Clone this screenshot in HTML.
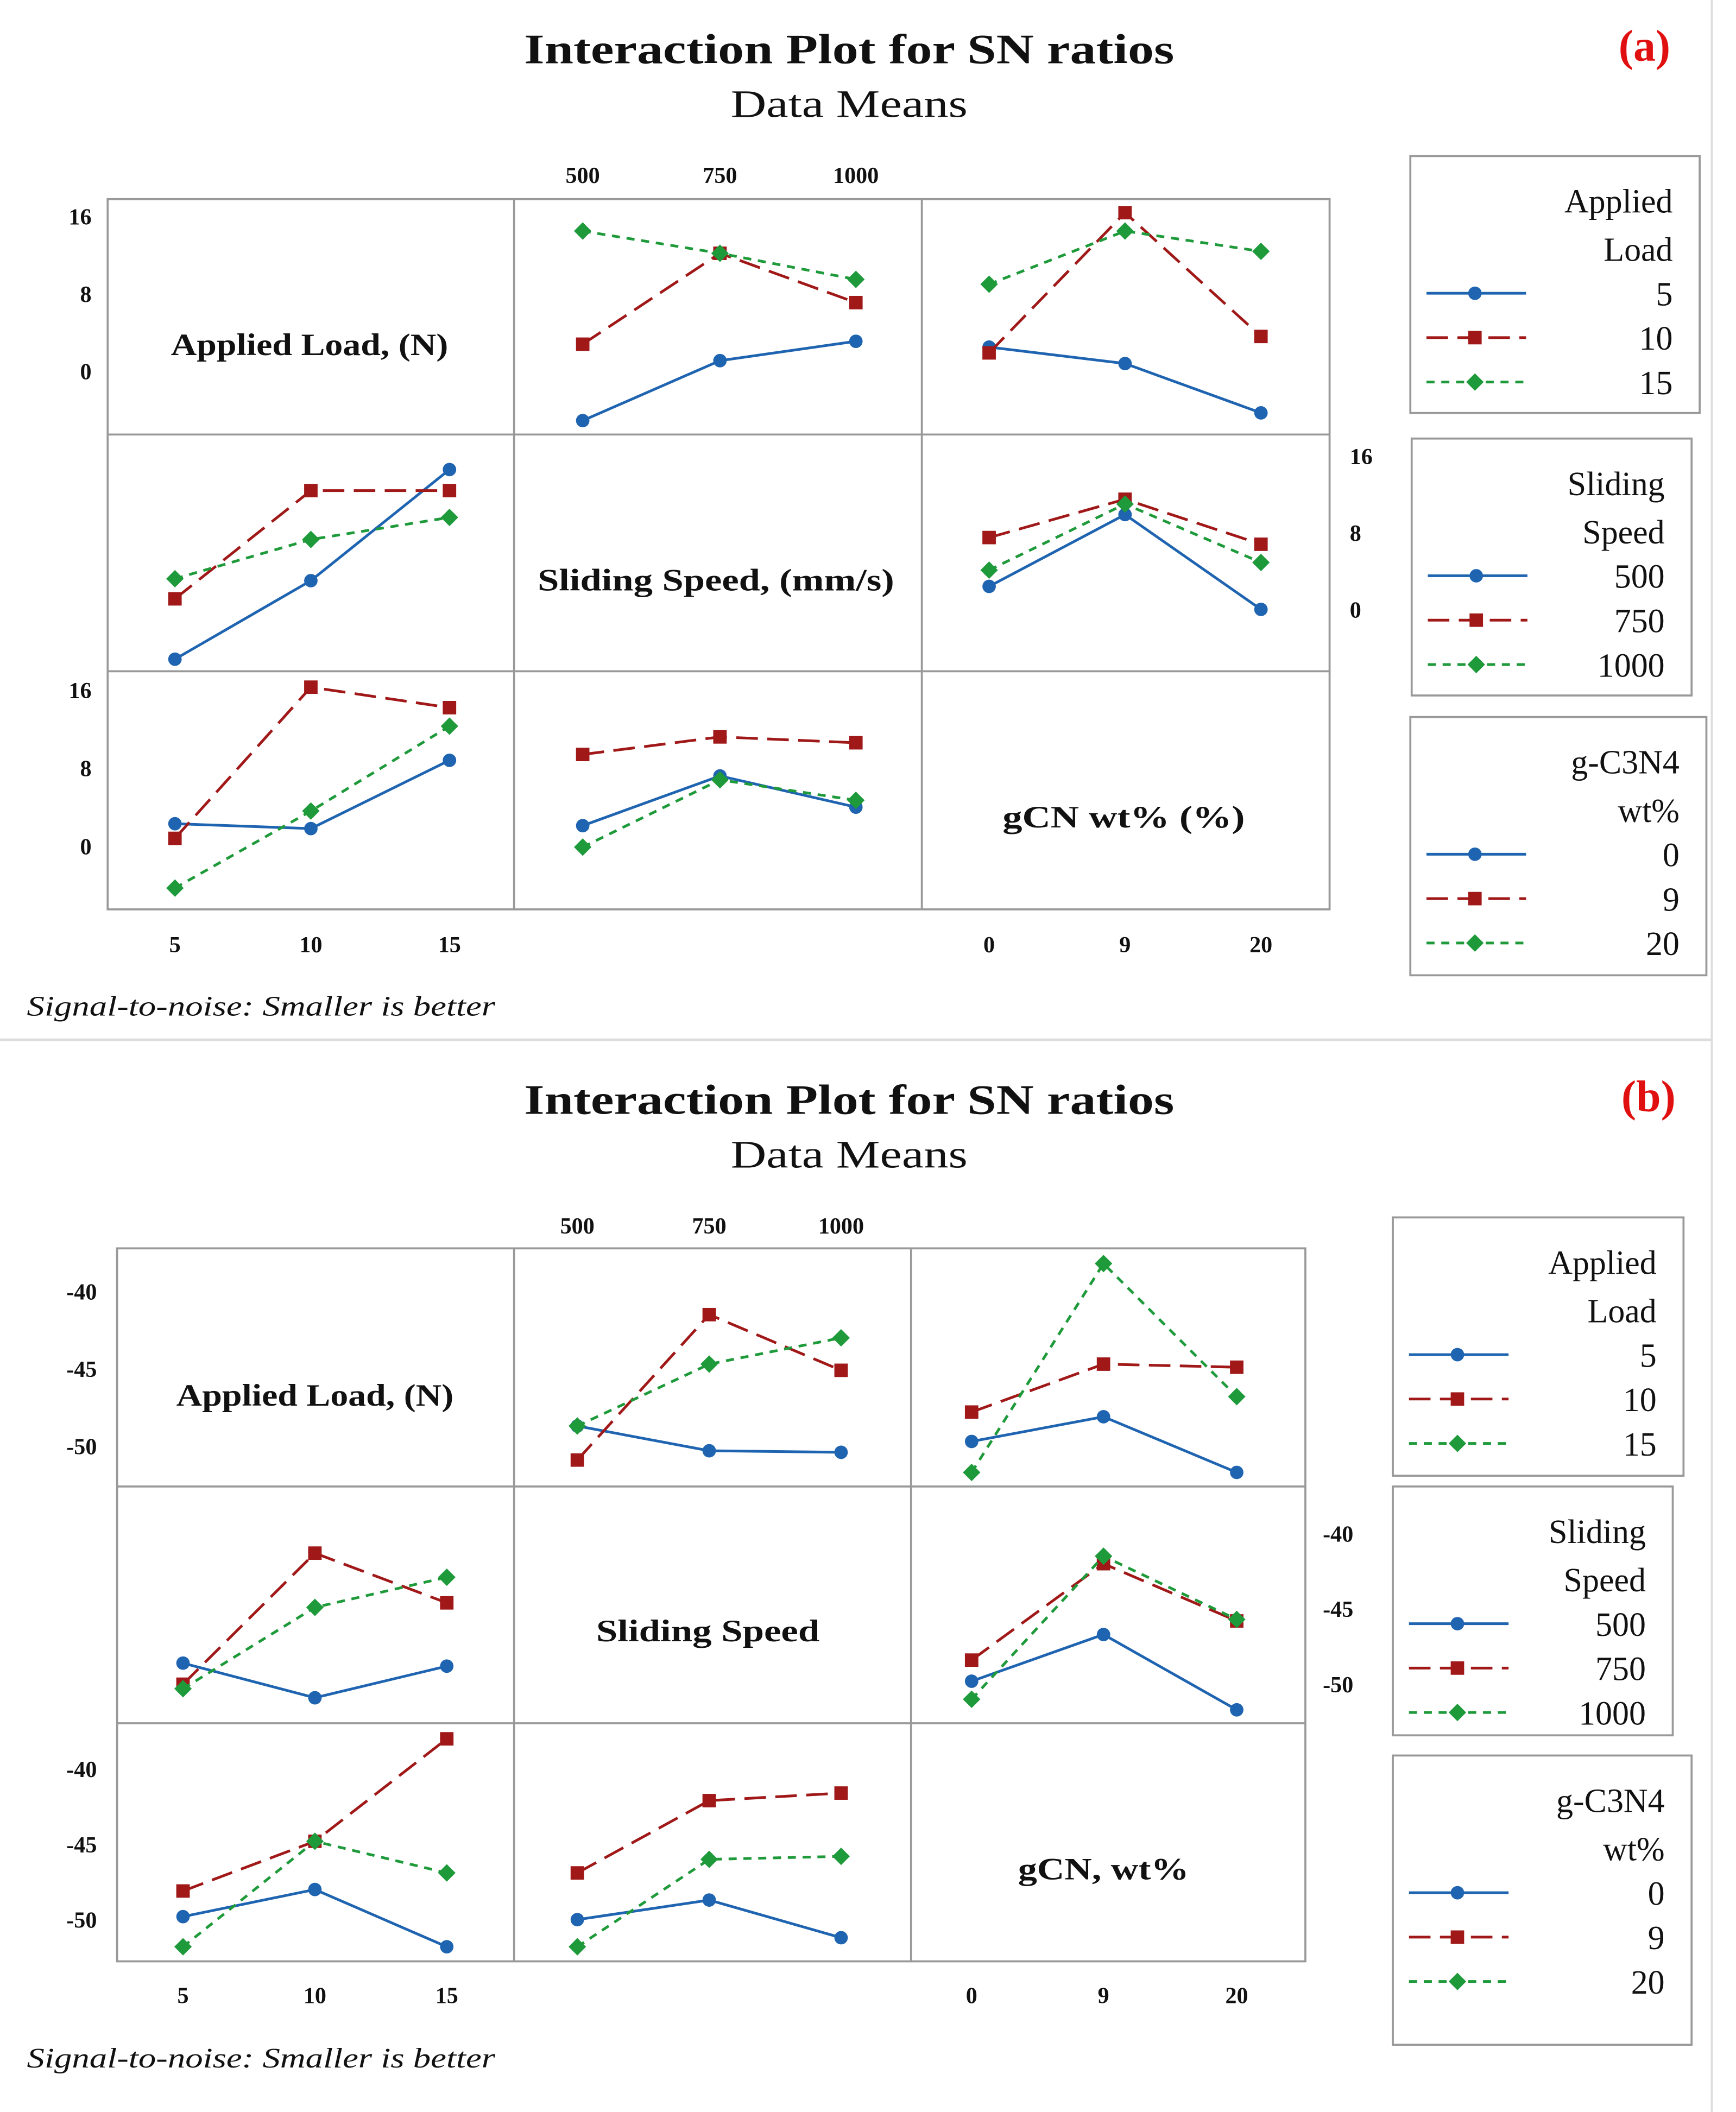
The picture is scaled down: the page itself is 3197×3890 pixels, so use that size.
<!DOCTYPE html>
<html><head><meta charset="utf-8"><style>
html,body{margin:0;padding:0;background:#fff;}
svg{display:block;}
text{font-family:"Liberation Serif",serif;}
</style></head><body>
<svg id="root" width="3197" height="3890" viewBox="0 0 1290 1570" preserveAspectRatio="none" xmlns="http://www.w3.org/2000/svg">
<rect x="0" y="0" width="1290" height="1570" fill="#fff"/>
<line x1="1272" y1="0" x2="1272" y2="1570" stroke="#ddd" stroke-width="1.5"/>
<line x1="0" y1="773" x2="1272" y2="773" stroke="#ddd" stroke-width="2"/>
<g id="g"></g>
</svg>
<script>
// ===== Chart (a) data =====
const aSpeedTicks=["500","750","1000"], aLoadTicks=["5","10","15"], aGcnTicks=["0","9","20"];
const aLoadLevels=["5","10","15"], aSpeedLevels=["500","750","1000"], aGcnLevels=["0","9","20"];
const aR1C2_blue=[-5.1,1.1,3.1], aR1C2_red=[2.8,12.2,7.1], aR1C2_green=[14.5,12.2,9.5];
const aR1C3_blue=[2.5,0.8,-4.3], aR1C3_red=[1.9,16.4,3.6], aR1C3_green=[9.0,14.5,12.4];
const aR2C1_blue=[-5.2,3.0,14.6], aR2C1_red=[1.1,12.4,12.4], aR2C1_green=[3.2,7.3,9.6];
const aR2C3_blue=[2.4,9.9,0.0], aR2C3_red=[7.5,11.5,6.8], aR2C3_green=[4.1,11.0,4.9];
const aR3C1_blue=[2.3,1.8,8.8], aR3C1_red=[0.8,16.3,14.2], aR3C1_green=[-4.3,3.6,12.3];
const aR3C2_blue=[2.1,7.2,4.0], aR3C2_red=[9.4,11.2,10.6], aR3C2_green=[-0.1,6.8,4.7];
const aYTicks=[16,8,0];
// ===== Chart (b) data =====
const bR1C2_blue=[-48.7,-50.3,-50.4], bR1C2_red=[-50.9,-41.5,-45.1], bR1C2_green=[-48.7,-44.7,-43.0];
const bR1C3_blue=[-49.7,-48.1,-51.7], bR1C3_red=[-47.8,-44.7,-44.9], bR1C3_green=[-51.7,-38.2,-46.8];
const bR2C1_blue=[-48.6,-50.9,-48.8], bR2C1_red=[-50.0,-41.3,-44.6], bR2C1_green=[-50.3,-44.9,-42.9];
const bR2C3_blue=[-49.8,-46.7,-51.7], bR2C3_red=[-48.4,-42.0,-45.8], bR2C3_green=[-51.0,-41.5,-45.7];
const bR3C1_blue=[-49.8,-48.0,-51.8], bR3C1_red=[-48.1,-44.8,-38.0], bR3C1_green=[-51.8,-44.8,-46.9];
const bR3C2_blue=[-50.0,-48.7,-51.2], bR3C2_red=[-46.9,-42.1,-41.6], bR3C2_green=[-51.8,-46.0,-45.8];
const bYTicks=[-40,-45,-50];

const NS="http://www.w3.org/2000/svg";
const G=document.getElementById('g');
function el(tag,attrs,parent){const e=document.createElementNS(NS,tag);for(const k in attrs)e.setAttribute(k,attrs[k]);(parent||G).appendChild(e);return e;}
function txt(x,y,s,size,opts,name,len){const o=Object.assign({x:x,y:y,'font-size':size,fill:'#111'},opts||{});
 if(len){o.textLength=len;o.lengthAdjust='spacingAndGlyphs';}
 const t=el('text',o);t.textContent=s;


return t;}
const COL={blue:'#1f64b0',red:'#a01818',green:'#1e9a3a'};
const DASH={blue:'',red:'16,7',green:'6,5'};
function marker(kind,x,y,parent){let m;
 if(kind==='blue')m=el('circle',{cx:x,cy:y,r:5,fill:COL.blue},parent);
 else if(kind==='red')m=el('rect',{x:x-5,y:y-5,width:10,height:10,fill:COL.red},parent);
 else m=el('polygon',{points:`${x},${y-6.5} ${x+6.5},${y} ${x},${y+6.5} ${x-6.5},${y}`,fill:COL.green},parent);
 
 
}
function series(xs,yfn,vals,kind,name){const g=el('g',{});
 
 
 const pts=vals.map((v,i)=>xs[i]+','+yfn(v)).join(' ');
 const pl=el('polyline',{points:pts,fill:'none',stroke:COL[kind],'stroke-width':2,'stroke-dasharray':DASH[kind]},g);
 
 
 vals.forEach((v,i)=>marker(kind,xs[i],yfn(v),g));}
function panel3(xs,yfn,b,r,gr,name){series(xs,yfn,b,'blue',name+'-blue');series(xs,yfn,r,'red',name+'-red');series(xs,yfn,gr,'green',name+'-green');}
function grid(xb,yb,name){const g=el('g',{});
 
 
 el('rect',{x:xb[0],y:yb[0],width:xb[3]-xb[0],height:yb[3]-yb[0],fill:'none',stroke:'#999','stroke-width':1.5},g);
 [1,2].forEach(i=>{el('line',{x1:xb[i],y1:yb[0],x2:xb[i],y2:yb[3],stroke:'#999','stroke-width':1.5},g);el('line',{x1:xb[0],y1:yb[i],x2:xb[3],y2:yb[i],stroke:'#999','stroke-width':1.5},g);});}
function legend(x,y,w,h,l1,l2,levels,name){const g=el('g',{});
 
 
 el('rect',{x:x,y:y,width:w,height:h,fill:'#fff',stroke:'#999','stroke-width':1.5},g);
 const rx=x+w-20;
 txt(rx,y+42,l1,25,{'text-anchor':'end'},name+'-title-1');
 txt(rx,y+78,l2,25,{'text-anchor':'end'},name+'-title-2');
 const kinds=['blue','red','green'];
 levels.forEach((lv,i)=>{const yy=y+102+i*33;
  el('line',{x1:x+12,y1:yy,x2:x+86,y2:yy,stroke:COL[kinds[i]],'stroke-width':2,'stroke-dasharray':DASH[kinds[i]]},g);
  marker(kinds[i],x+48,yy,g);
  txt(rx,yy+9,lv,25,{'text-anchor':'end'},name+'-entry-'+lv);});}
function yticks(ticks,yfn,x,anchor,name){ticks.forEach(t=>txt(x,yfn(t)+6,String(t),17,{'text-anchor':anchor,'font-weight':'bold'},name+'-tick-'+t));}
function xticks(ticks,xs,y,name){ticks.forEach((t,i)=>txt(xs[i],y,t,17,{'text-anchor':'middle','font-weight':'bold'},name+'-tick-'+t));}

// ===== Chart (a) =====
txt(631,47,"Interaction Plot for SN ratios",31,{'text-anchor':'middle','font-weight':'bold'},'chart-a-title',483);
txt(631,87,"Data Means",29,{'text-anchor':'middle'},'chart-a-subtitle',176);
txt(1222,45,"(a)",33,{'text-anchor':'middle','font-weight':'bold',fill:'#e01010'},'panel-a-label');
const aXb=[80,382,685,988], aYb=[148,323,499,676];
grid(aXb,aYb,'chart-a-grid');
const aX1=[130,231,334], aX2=[433,535,636], aX3=[735,836,937];
const ay1=v=>276-7.19*v, ay2=v=>453-7.12*v, ay3=v=>629-7.25*v;
panel3(aX2,ay1,aR1C2_blue,aR1C2_red,aR1C2_green,'a-load-vs-speed');
panel3(aX3,ay1,aR1C3_blue,aR1C3_red,aR1C3_green,'a-load-vs-gcn');
panel3(aX1,ay2,aR2C1_blue,aR2C1_red,aR2C1_green,'a-speed-vs-load');
panel3(aX3,ay2,aR2C3_blue,aR2C3_red,aR2C3_green,'a-speed-vs-gcn');
panel3(aX1,ay3,aR3C1_blue,aR3C1_red,aR3C1_green,'a-gcn-vs-load');
panel3(aX2,ay3,aR3C2_blue,aR3C2_red,aR3C2_green,'a-gcn-vs-speed');
yticks(aYTicks,ay1,68,'end','a-row1-yaxis');
yticks(aYTicks,ay2,1003,'start','a-row2-yaxis');
yticks(aYTicks,ay3,68,'end','a-row3-yaxis');
xticks(aSpeedTicks,aX2,136,'a-top-xaxis');
xticks(aLoadTicks,aX1,708,'a-load-xaxis');
xticks(aGcnTicks,aX3,708,'a-gcn-xaxis');
txt(230,264,"Applied Load, (N)",23,{'text-anchor':'middle','font-weight':'bold'},'a-applied-load-label',206);
txt(532,439,"Sliding Speed, (mm/s)",23,{'text-anchor':'middle','font-weight':'bold'},'a-sliding-speed-label',265);
txt(835,615,"gCN wt% (%)",23,{'text-anchor':'middle','font-weight':'bold'},'a-gcn-label',180);
txt(20,755,"Signal-to-noise: Smaller is better",21,{'font-style':'italic'},'a-footnote',348);
legend(1048,116,215,191,"Applied","Load",aLoadLevels,'a-legend-load');
legend(1049,326,208,191,"Sliding","Speed",aSpeedLevels,'a-legend-speed');
legend(1048,533,220,192,"g-C3N4","wt%",aGcnLevels,'a-legend-gcn');

// ===== Chart (b) =====
txt(631,828,"Interaction Plot for SN ratios",31,{'text-anchor':'middle','font-weight':'bold'},'chart-b-title',483);
txt(631,868,"Data Means",29,{'text-anchor':'middle'},'chart-b-subtitle',176);
txt(1225,826,"(b)",33,{'text-anchor':'middle','font-weight':'bold',fill:'#e01010'},'panel-b-label');
const bXb=[87,382,677,970], bYb=[928,1105,1281,1458];
grid(bXb,bYb,'chart-b-grid');
const bX1=[136,234,332], bX2=[429,527,625], bX3=[722,820,919];
const by1=v=>960-11.5*(v+40), by2=v=>1140-11.2*(v+40), by3=v=>1315-11.2*(v+40);
panel3(bX2,by1,bR1C2_blue,bR1C2_red,bR1C2_green,'b-load-vs-speed');
panel3(bX3,by1,bR1C3_blue,bR1C3_red,bR1C3_green,'b-load-vs-gcn');
panel3(bX1,by2,bR2C1_blue,bR2C1_red,bR2C1_green,'b-speed-vs-load');
panel3(bX3,by2,bR2C3_blue,bR2C3_red,bR2C3_green,'b-speed-vs-gcn');
panel3(bX1,by3,bR3C1_blue,bR3C1_red,bR3C1_green,'b-gcn-vs-load');
panel3(bX2,by3,bR3C2_blue,bR3C2_red,bR3C2_green,'b-gcn-vs-speed');
yticks(bYTicks,by1,72,'end','b-row1-yaxis');
yticks(bYTicks,by2,983,'start','b-row2-yaxis');
yticks(bYTicks,by3,72,'end','b-row3-yaxis');
xticks(aSpeedTicks,bX2,917,'b-top-xaxis');
xticks(aLoadTicks,bX1,1489,'b-load-xaxis');
xticks(aGcnTicks,bX3,1489,'b-gcn-xaxis');
txt(234,1045,"Applied Load, (N)",23,{'text-anchor':'middle','font-weight':'bold'},'b-applied-load-label',206);
txt(526,1220,"Sliding Speed",23,{'text-anchor':'middle','font-weight':'bold'},'b-sliding-speed-label',166);
txt(820,1397,"gCN, wt%",23,{'text-anchor':'middle','font-weight':'bold'},'b-gcn-label',127);
txt(20,1537,"Signal-to-noise: Smaller is better",21,{'font-style':'italic'},'b-footnote',348);
legend(1035,905,216,192,"Applied","Load",aLoadLevels,'b-legend-load');
legend(1035,1105,208,185,"Sliding","Speed",aSpeedLevels,'b-legend-speed');
legend(1035,1305,222,215,"g-C3N4","wt%",aGcnLevels,'b-legend-gcn');
</script>
</body></html>
